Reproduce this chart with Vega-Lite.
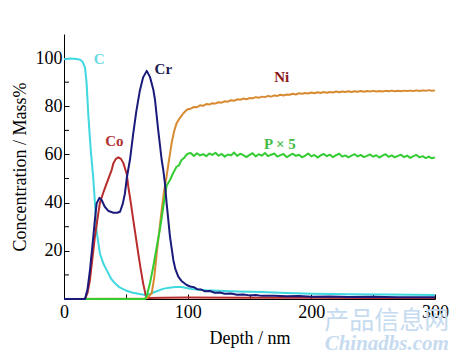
{
  "$schema": "https://vega.github.io/schema/vega-lite/v6.json",
  "width": 371,
  "height": 265,
  "autosize": {"type": "none"},
  "padding": {"left": 64, "top": 34, "right": 40, "bottom": 58},
  "background": "white",
  "config": {"view": {"stroke": null}, "font": "Liberation Serif"},
  "datasets": {
    "curves": [
      {"series": "C", "depth": 0, "value": 99.5}, {"series": "C", "depth": 5, "value": 99.8}, {"series": "C", "depth": 10, "value": 99.6}, {"series": "C", "depth": 13, "value": 99.3}, {"series": "C", "depth": 15, "value": 98.5}, {"series": "C", "depth": 17, "value": 96}, {"series": "C", "depth": 18.3, "value": 89.5}, {"series": "C", "depth": 19.7, "value": 76}, {"series": "C", "depth": 21.6, "value": 62}, {"series": "C", "depth": 23.7, "value": 50}, {"series": "C", "depth": 25, "value": 40}, {"series": "C", "depth": 26.4, "value": 28}, {"series": "C", "depth": 29, "value": 19}, {"series": "C", "depth": 32, "value": 14.5}, {"series": "C", "depth": 34.5, "value": 12}, {"series": "C", "depth": 38, "value": 8.5}, {"series": "C", "depth": 41, "value": 6.6}, {"series": "C", "depth": 45, "value": 4.8}, {"series": "C", "depth": 50.7, "value": 3.4}, {"series": "C", "depth": 55, "value": 2.7}, {"series": "C", "depth": 61, "value": 2.1}, {"series": "C", "depth": 66, "value": 1.7}, {"series": "C", "depth": 70, "value": 2.2}, {"series": "C", "depth": 75, "value": 3.2}, {"series": "C", "depth": 80, "value": 4.2}, {"series": "C", "depth": 85, "value": 4.7}, {"series": "C", "depth": 90, "value": 5}, {"series": "C", "depth": 95, "value": 5}, {"series": "C", "depth": 100, "value": 4.5}, {"series": "C", "depth": 105, "value": 4}, {"series": "C", "depth": 115, "value": 3.6}, {"series": "C", "depth": 125, "value": 3.4}, {"series": "C", "depth": 140, "value": 3.1}, {"series": "C", "depth": 160, "value": 2.9}, {"series": "C", "depth": 180, "value": 2.5}, {"series": "C", "depth": 200, "value": 2.2}, {"series": "C", "depth": 230, "value": 2}, {"series": "C", "depth": 260, "value": 1.9}, {"series": "C", "depth": 300, "value": 1.7},

      {"series": "Co", "depth": 0, "value": 0}, {"series": "Co", "depth": 17, "value": 0}, {"series": "Co", "depth": 19, "value": 2.5}, {"series": "Co", "depth": 21, "value": 7.9}, {"series": "Co", "depth": 23, "value": 17}, {"series": "Co", "depth": 25, "value": 26}, {"series": "Co", "depth": 27, "value": 33}, {"series": "Co", "depth": 29, "value": 39.8}, {"series": "Co", "depth": 32, "value": 44.5}, {"series": "Co", "depth": 34.5, "value": 48}, {"series": "Co", "depth": 38.5, "value": 53.5}, {"series": "Co", "depth": 40, "value": 56.4}, {"series": "Co", "depth": 42, "value": 58.2}, {"series": "Co", "depth": 44, "value": 58.8}, {"series": "Co", "depth": 46, "value": 58.2}, {"series": "Co", "depth": 48, "value": 56.4}, {"series": "Co", "depth": 50.7, "value": 52}, {"series": "Co", "depth": 52, "value": 46.6}, {"series": "Co", "depth": 54, "value": 40}, {"series": "Co", "depth": 56, "value": 32.8}, {"series": "Co", "depth": 58, "value": 26}, {"series": "Co", "depth": 60, "value": 19}, {"series": "Co", "depth": 62, "value": 12.5}, {"series": "Co", "depth": 64, "value": 6.5}, {"series": "Co", "depth": 66.3, "value": 1}, {"series": "Co", "depth": 68, "value": 0.4}, {"series": "Co", "depth": 80, "value": 0.5}, {"series": "Co", "depth": 100, "value": 0.6}, {"series": "Co", "depth": 150, "value": 0.5}, {"series": "Co", "depth": 200, "value": 0.5}, {"series": "Co", "depth": 250, "value": 0.4}, {"series": "Co", "depth": 300, "value": 0.4},

      {"series": "Ni", "depth": 0, "value": 0}, {"series": "Ni", "depth": 66, "value": 0.2}, {"series": "Ni", "depth": 68, "value": 0.8}, {"series": "Ni", "depth": 70.9, "value": 2.4}, {"series": "Ni", "depth": 73, "value": 9}, {"series": "Ni", "depth": 75, "value": 19}, {"series": "Ni", "depth": 77, "value": 28}, {"series": "Ni", "depth": 79, "value": 37}, {"series": "Ni", "depth": 81, "value": 45}, {"series": "Ni", "depth": 83, "value": 51}, {"series": "Ni", "depth": 85, "value": 58}, {"series": "Ni", "depth": 87, "value": 64.6}, {"series": "Ni", "depth": 89, "value": 69.5}, {"series": "Ni", "depth": 91, "value": 72.9}, {"series": "Ni", "depth": 93.5, "value": 75}, {"series": "Ni", "depth": 96.4, "value": 77}, {"series": "Ni", "depth": 98, "value": 77.9},
      {"series": "Ni", "depth": 100, "value": 78.8}, {"series": "Ni", "depth": 102.5, "value": 79.0}, {"series": "Ni", "depth": 105, "value": 79.7}, {"series": "Ni", "depth": 107.5, "value": 79.6}, {"series": "Ni", "depth": 110, "value": 80.4}, {"series": "Ni", "depth": 112.5, "value": 80.2}, {"series": "Ni", "depth": 115, "value": 80.9}, {"series": "Ni", "depth": 117.5, "value": 80.7}, {"series": "Ni", "depth": 120, "value": 81.3}, {"series": "Ni", "depth": 122.5, "value": 81.1}, {"series": "Ni", "depth": 125, "value": 81.7}, {"series": "Ni", "depth": 127.5, "value": 81.5}, {"series": "Ni", "depth": 130, "value": 82.1}, {"series": "Ni", "depth": 132.5, "value": 81.9}, {"series": "Ni", "depth": 135, "value": 82.5}, {"series": "Ni", "depth": 137.5, "value": 82.3}, {"series": "Ni", "depth": 140, "value": 82.9}, {"series": "Ni", "depth": 142.5, "value": 82.7}, {"series": "Ni", "depth": 145, "value": 83.2}, {"series": "Ni", "depth": 147.5, "value": 82.9}, {"series": "Ni", "depth": 150, "value": 83.4}, {"series": "Ni", "depth": 152.5, "value": 83.3}, {"series": "Ni", "depth": 155, "value": 83.8}, {"series": "Ni", "depth": 157.5, "value": 83.5}, {"series": "Ni", "depth": 160, "value": 84.0}, {"series": "Ni", "depth": 162.5, "value": 83.8}, {"series": "Ni", "depth": 165, "value": 84.3}, {"series": "Ni", "depth": 167.5, "value": 84.0}, {"series": "Ni", "depth": 170, "value": 84.5}, {"series": "Ni", "depth": 172.5, "value": 84.3}, {"series": "Ni", "depth": 175, "value": 84.8}, {"series": "Ni", "depth": 177.5, "value": 84.5}, {"series": "Ni", "depth": 180, "value": 84.9}, {"series": "Ni", "depth": 182.5, "value": 84.8}, {"series": "Ni", "depth": 185, "value": 85.2}, {"series": "Ni", "depth": 187.5, "value": 84.9}, {"series": "Ni", "depth": 190, "value": 85.4}, {"series": "Ni", "depth": 192.5, "value": 85.2}, {"series": "Ni", "depth": 195, "value": 85.5}, {"series": "Ni", "depth": 197.5, "value": 85.3}, {"series": "Ni", "depth": 200, "value": 85.7}, {"series": "Ni", "depth": 202.5, "value": 85.4}, {"series": "Ni", "depth": 205, "value": 85.8}, {"series": "Ni", "depth": 207.5, "value": 85.5}, {"series": "Ni", "depth": 210, "value": 85.9}, {"series": "Ni", "depth": 212.5, "value": 85.6}, {"series": "Ni", "depth": 215, "value": 85.9}, {"series": "Ni", "depth": 217.5, "value": 85.7}, {"series": "Ni", "depth": 220, "value": 86.1}, {"series": "Ni", "depth": 222.5, "value": 85.8}, {"series": "Ni", "depth": 225, "value": 86.1}, {"series": "Ni", "depth": 227.5, "value": 85.9}, {"series": "Ni", "depth": 230, "value": 86.2}, {"series": "Ni", "depth": 232.5, "value": 85.9}, {"series": "Ni", "depth": 235, "value": 86.2}, {"series": "Ni", "depth": 237.5, "value": 86.0}, {"series": "Ni", "depth": 240, "value": 86.3}, {"series": "Ni", "depth": 242.5, "value": 86.0}, {"series": "Ni", "depth": 245, "value": 86.3}, {"series": "Ni", "depth": 247.5, "value": 86.1}, {"series": "Ni", "depth": 250, "value": 86.4}, {"series": "Ni", "depth": 252.5, "value": 86.1}, {"series": "Ni", "depth": 255, "value": 86.3}, {"series": "Ni", "depth": 257.5, "value": 86.1}, {"series": "Ni", "depth": 260, "value": 86.4}, {"series": "Ni", "depth": 262.5, "value": 86.2}, {"series": "Ni", "depth": 265, "value": 86.5}, {"series": "Ni", "depth": 267.5, "value": 86.2}, {"series": "Ni", "depth": 270, "value": 86.4}, {"series": "Ni", "depth": 272.5, "value": 86.2}, {"series": "Ni", "depth": 275, "value": 86.5}, {"series": "Ni", "depth": 277.5, "value": 86.3}, {"series": "Ni", "depth": 280, "value": 86.5}, {"series": "Ni", "depth": 282.5, "value": 86.3}, {"series": "Ni", "depth": 285, "value": 86.6}, {"series": "Ni", "depth": 287.5, "value": 86.3}, {"series": "Ni", "depth": 290, "value": 86.6}, {"series": "Ni", "depth": 292.5, "value": 86.4}, {"series": "Ni", "depth": 295, "value": 86.7}, {"series": "Ni", "depth": 297.5, "value": 86.4}, {"series": "Ni", "depth": 300, "value": 86.6},

      {"series": "P", "depth": 0, "value": 0}, {"series": "P", "depth": 65.5, "value": 0}, {"series": "P", "depth": 67, "value": 1.5}, {"series": "P", "depth": 69.5, "value": 6.5}, {"series": "P", "depth": 72, "value": 13}, {"series": "P", "depth": 75, "value": 21.7}, {"series": "P", "depth": 77.6, "value": 29}, {"series": "P", "depth": 80.3, "value": 38.3}, {"series": "P", "depth": 82, "value": 44}, {"series": "P", "depth": 83, "value": 47}, {"series": "P", "depth": 85.7, "value": 49.4}, {"series": "P", "depth": 88, "value": 52}, {"series": "P", "depth": 91, "value": 54.9}, {"series": "P", "depth": 93, "value": 55.5}, {"series": "P", "depth": 95, "value": 57.7}, {"series": "P", "depth": 97, "value": 58.5}, {"series": "P", "depth": 99, "value": 59.8},
      {"series": "P", "depth": 100, "value": 60.3}, {"series": "P", "depth": 102.5, "value": 60.6}, {"series": "P", "depth": 105, "value": 59.4}, {"series": "P", "depth": 107.5, "value": 60.5}, {"series": "P", "depth": 110, "value": 59.6}, {"series": "P", "depth": 112.5, "value": 60.1}, {"series": "P", "depth": 115, "value": 59.3}, {"series": "P", "depth": 117.5, "value": 60.4}, {"series": "P", "depth": 120, "value": 59.8}, {"series": "P", "depth": 122.5, "value": 60.7}, {"series": "P", "depth": 125, "value": 59.5}, {"series": "P", "depth": 127.5, "value": 60.2}, {"series": "P", "depth": 130, "value": 59.1}, {"series": "P", "depth": 132.5, "value": 60.0}, {"series": "P", "depth": 135, "value": 59.6}, {"series": "P", "depth": 137.5, "value": 60.8}, {"series": "P", "depth": 140, "value": 59.4}, {"series": "P", "depth": 142.5, "value": 60.3}, {"series": "P", "depth": 145, "value": 59.7}, {"series": "P", "depth": 147.5, "value": 58.9}, {"series": "P", "depth": 150, "value": 59.8}, {"series": "P", "depth": 152.5, "value": 60.5}, {"series": "P", "depth": 155, "value": 59.2}, {"series": "P", "depth": 157.5, "value": 60.1}, {"series": "P", "depth": 160, "value": 59.5}, {"series": "P", "depth": 162.5, "value": 60.6}, {"series": "P", "depth": 165, "value": 59.3}, {"series": "P", "depth": 167.5, "value": 59.9}, {"series": "P", "depth": 170, "value": 60.4}, {"series": "P", "depth": 172.5, "value": 59.1}, {"series": "P", "depth": 175, "value": 59.7}, {"series": "P", "depth": 177.5, "value": 60.2}, {"series": "P", "depth": 180, "value": 58.9}, {"series": "P", "depth": 182.5, "value": 59.6}, {"series": "P", "depth": 185, "value": 60.3}, {"series": "P", "depth": 187.5, "value": 59.4}, {"series": "P", "depth": 190, "value": 59.9}, {"series": "P", "depth": 192.5, "value": 58.8}, {"series": "P", "depth": 195, "value": 59.5}, {"series": "P", "depth": 197.5, "value": 60.4}, {"series": "P", "depth": 200, "value": 59.2}, {"series": "P", "depth": 202.5, "value": 59.8}, {"series": "P", "depth": 205, "value": 58.7}, {"series": "P", "depth": 207.5, "value": 59.6}, {"series": "P", "depth": 210, "value": 60.2}, {"series": "P", "depth": 212.5, "value": 59.3}, {"series": "P", "depth": 215, "value": 59.9}, {"series": "P", "depth": 217.5, "value": 58.9}, {"series": "P", "depth": 220, "value": 59.7}, {"series": "P", "depth": 222.5, "value": 60.3}, {"series": "P", "depth": 225, "value": 59.1}, {"series": "P", "depth": 227.5, "value": 59.6}, {"series": "P", "depth": 230, "value": 58.8}, {"series": "P", "depth": 232.5, "value": 59.5}, {"series": "P", "depth": 235, "value": 60.1}, {"series": "P", "depth": 237.5, "value": 59.2}, {"series": "P", "depth": 240, "value": 59.8}, {"series": "P", "depth": 242.5, "value": 58.9}, {"series": "P", "depth": 245, "value": 59.4}, {"series": "P", "depth": 247.5, "value": 60.0}, {"series": "P", "depth": 250, "value": 59.1}, {"series": "P", "depth": 252.5, "value": 59.7}, {"series": "P", "depth": 255, "value": 58.7}, {"series": "P", "depth": 257.5, "value": 59.5}, {"series": "P", "depth": 260, "value": 60.1}, {"series": "P", "depth": 262.5, "value": 59.0}, {"series": "P", "depth": 265, "value": 59.6}, {"series": "P", "depth": 267.5, "value": 58.8}, {"series": "P", "depth": 270, "value": 59.4}, {"series": "P", "depth": 272.5, "value": 59.9}, {"series": "P", "depth": 275, "value": 58.9}, {"series": "P", "depth": 277.5, "value": 59.5}, {"series": "P", "depth": 280, "value": 58.6}, {"series": "P", "depth": 282.5, "value": 59.3}, {"series": "P", "depth": 285, "value": 59.8}, {"series": "P", "depth": 287.5, "value": 58.8}, {"series": "P", "depth": 290, "value": 59.3}, {"series": "P", "depth": 292.5, "value": 58.5}, {"series": "P", "depth": 295, "value": 59.1}, {"series": "P", "depth": 297.5, "value": 58.4}, {"series": "P", "depth": 300, "value": 58.8},

      {"series": "Cr", "depth": 0, "value": 0}, {"series": "Cr", "depth": 17, "value": 0}, {"series": "Cr", "depth": 19, "value": 4}, {"series": "Cr", "depth": 21, "value": 12}, {"series": "Cr", "depth": 23.7, "value": 25.9}, {"series": "Cr", "depth": 25, "value": 33}, {"series": "Cr", "depth": 26.4, "value": 39.7}, {"series": "Cr", "depth": 28.6, "value": 42}, {"series": "Cr", "depth": 30.5, "value": 41}, {"series": "Cr", "depth": 33, "value": 38.3}, {"series": "Cr", "depth": 36, "value": 36.5}, {"series": "Cr", "depth": 40, "value": 35.8}, {"series": "Cr", "depth": 43, "value": 35.8}, {"series": "Cr", "depth": 45.3, "value": 36.2}, {"series": "Cr", "depth": 47.5, "value": 39.5}, {"series": "Cr", "depth": 49.3, "value": 43.9}, {"series": "Cr", "depth": 50.7, "value": 50}, {"series": "Cr", "depth": 53.4, "value": 58}, {"series": "Cr", "depth": 56, "value": 68.8}, {"series": "Cr", "depth": 58.5, "value": 78}, {"series": "Cr", "depth": 61.4, "value": 86.7}, {"series": "Cr", "depth": 64, "value": 92}, {"series": "Cr", "depth": 66.9, "value": 94.7}, {"series": "Cr", "depth": 69.5, "value": 92.2}, {"series": "Cr", "depth": 72.2, "value": 87}, {"series": "Cr", "depth": 73.6, "value": 82.6}, {"series": "Cr", "depth": 76.2, "value": 70}, {"series": "Cr", "depth": 79, "value": 57.7}, {"series": "Cr", "depth": 80.3, "value": 53.5}, {"series": "Cr", "depth": 81.6, "value": 48}, {"series": "Cr", "depth": 83, "value": 39.7}, {"series": "Cr", "depth": 85.7, "value": 25.9}, {"series": "Cr", "depth": 88.4, "value": 16.2}, {"series": "Cr", "depth": 90, "value": 12.5}, {"series": "Cr", "depth": 92.4, "value": 9.3}, {"series": "Cr", "depth": 95, "value": 7.5}, {"series": "Cr", "depth": 99.2, "value": 5.8}, {"series": "Cr", "depth": 102, "value": 5.2}, {"series": "Cr", "depth": 105, "value": 4.9}, {"series": "Cr", "depth": 108, "value": 4.0}, {"series": "Cr", "depth": 111, "value": 3.9}, {"series": "Cr", "depth": 114, "value": 3.2}, {"series": "Cr", "depth": 118, "value": 3.3}, {"series": "Cr", "depth": 122, "value": 2.6}, {"series": "Cr", "depth": 126, "value": 2.7}, {"series": "Cr", "depth": 130, "value": 2.2}, {"series": "Cr", "depth": 135, "value": 2.3}, {"series": "Cr", "depth": 140, "value": 1.8}, {"series": "Cr", "depth": 145, "value": 1.9}, {"series": "Cr", "depth": 150, "value": 1.5}, {"series": "Cr", "depth": 155, "value": 1.7}, {"series": "Cr", "depth": 160, "value": 1.3}, {"series": "Cr", "depth": 170, "value": 1.4}, {"series": "Cr", "depth": 180, "value": 1.1}, {"series": "Cr", "depth": 190, "value": 1.2}, {"series": "Cr", "depth": 200, "value": 0.9}, {"series": "Cr", "depth": 215, "value": 1.0}, {"series": "Cr", "depth": 230, "value": 0.8}, {"series": "Cr", "depth": 250, "value": 0.9}, {"series": "Cr", "depth": 270, "value": 0.7}, {"series": "Cr", "depth": 300, "value": 0.7}
    ],
    "labels": [
      {"label": "C", "depth": 28.5, "value": 99.5},
      {"label": "Cr", "depth": 80.3, "value": 95.4},
      {"label": "Co", "depth": 40.7, "value": 65.6},
      {"label": "Ni", "depth": 176, "value": 92.2},
      {"label": "P × 5", "depth": 174.6, "value": 64.2}
    ],
    "minorTicks": [
      {"value": 10}, {"value": 30}, {"value": 50}, {"value": 70}, {"value": 90}
    ],
    "watermark": [
      {"text": "产品信息网", "kind": "cjk", "depth": 261, "value": -9.1},
      {"text": "Chinadbs.com", "kind": "latin", "depth": 261, "value": -18.7}
    ]
  },
  "layer": [
    {
      "data": {"name": "curves"},
      "mark": {"type": "line", "strokeWidth": 2, "strokeJoin": "round"},
      "encoding": {
        "x": {
          "field": "depth", "type": "quantitative",
          "scale": {"domain": [0, 300], "nice": false, "zero": false},
          "axis": {
            "title": "Depth / nm", "titleFont": "Liberation Serif", "titleFontSize": 18, "titleFontWeight": "normal", "titleColor": "black", "titlePadding": 8,
            "values": [0, 50, 100, 150, 200, 250, 300],
            "labelExpr": "datum.value % 100 == 0 ? datum.label : ''",
            "labelFont": "Liberation Serif", "labelFontSize": 18, "labelColor": "black", "labelPadding": 9,
            "tickSize": -5, "tickColor": "black", "domainColor": "black", "grid": false, "labelFlush": false, "labelOverlap": false
          }
        },
        "y": {
          "field": "value", "type": "quantitative",
          "scale": {"domain": [0, 110], "nice": false},
          "axis": {
            "title": "Concentration / Mass%", "titleFont": "Liberation Serif", "titleFontSize": 18, "titleFontWeight": "normal", "titleColor": "black", "titlePadding": 6,
            "values": [20, 40, 60, 80, 100],
            "labelFont": "Liberation Serif", "labelFontSize": 18, "labelColor": "black", "labelPadding": 7,
            "tickSize": -5, "tickColor": "black", "domainColor": "black", "grid": false, "labelOverlap": false
          }
        },
        "color": {
          "field": "series", "type": "nominal",
          "scale": {"domain": ["C", "Co", "Ni", "P", "Cr"], "range": ["#3FD8E0", "#B82C2C", "#D88A30", "#33CC33", "#1A1A7A"]},
          "legend": null
        }
      }
    },
    {
      "data": {"name": "minorTicks"},
      "mark": {"type": "rule", "color": "black", "strokeWidth": 1},
      "encoding": {
        "x": {"datum": 0, "type": "quantitative"},
        "x2": {"datum": 4.04},
        "y": {"field": "value", "type": "quantitative"}
      }
    },
    {
      "data": {"name": "labels"},
      "mark": {"type": "text", "font": "Liberation Serif", "fontSize": 15, "fontWeight": "bold"},
      "encoding": {
        "x": {"field": "depth", "type": "quantitative"},
        "y": {"field": "value", "type": "quantitative"},
        "text": {"field": "label"},
        "color": {
          "field": "label", "type": "nominal",
          "scale": {"domain": ["C", "Cr", "Co", "Ni", "P × 5"], "range": ["#6AD8E0", "#1A1A50", "#B03030", "#8B1A1A", "#44BB44"]},
          "legend": null
        }
      }
    },
    {
      "data": {"name": "watermark"},
      "transform": [{"filter": "datum.kind == 'cjk'"}],
      "mark": {"type": "text", "font": "Noto Sans CJK SC", "fontSize": 25, "color": "#C6DBEF"},
      "encoding": {
        "x": {"field": "depth", "type": "quantitative"},
        "y": {"field": "value", "type": "quantitative"},
        "text": {"field": "text"}
      }
    },
    {
      "data": {"name": "watermark"},
      "transform": [{"filter": "datum.kind == 'latin'"}],
      "mark": {"type": "text", "font": "Liberation Serif", "fontSize": 21, "fontWeight": "bold", "fontStyle": "italic", "color": "#C6DBEF"},
      "encoding": {
        "x": {"field": "depth", "type": "quantitative"},
        "y": {"field": "value", "type": "quantitative"},
        "text": {"field": "text"}
      }
    }
  ],
  "resolve": {"scale": {"color": "independent"}}
}
